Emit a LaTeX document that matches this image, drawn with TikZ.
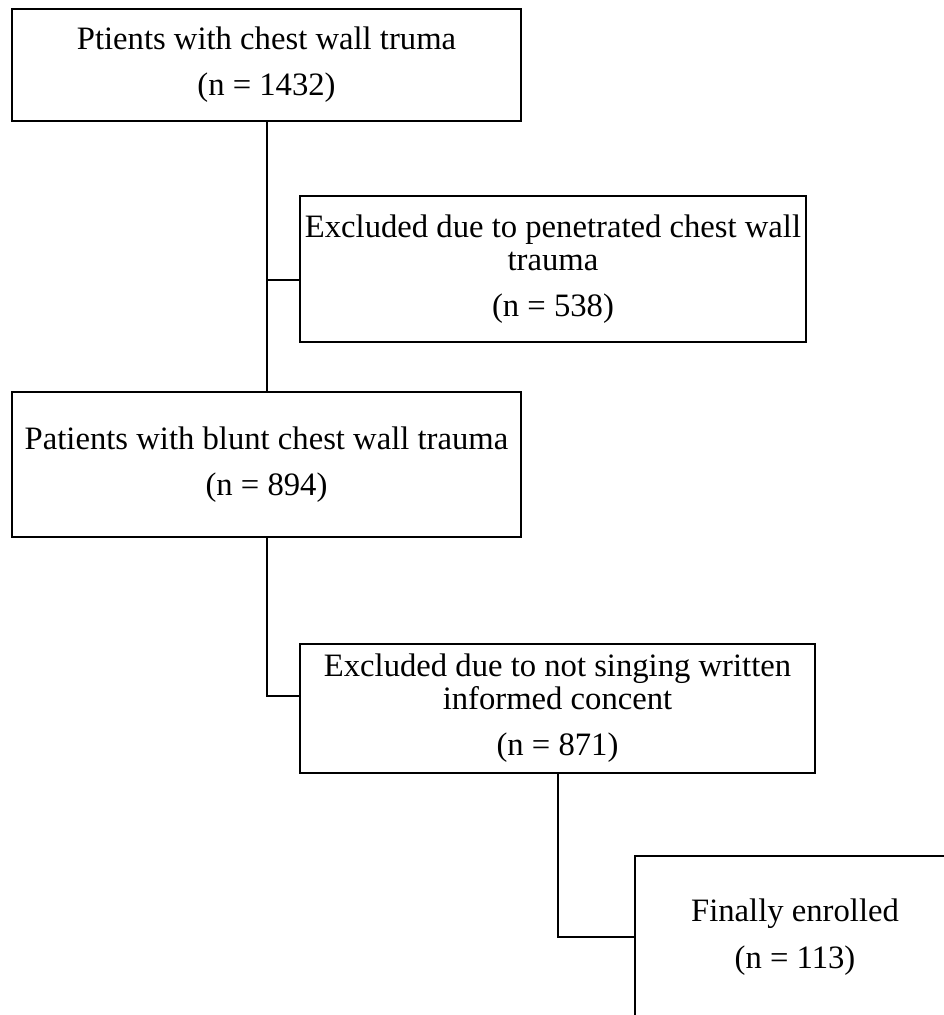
\documentclass[tikz,border=0pt]{standalone}
\usepackage{fontspec}
\setmainfont{Liberation Serif}
\begin{document}
\begin{tikzpicture}[x=0.75pt,y=-0.75pt,
    box/.style={draw, line width=1.5pt, inner sep=0pt, align=center,
        font=\fontsize{24.5}{24.75}\selectfont},
    link/.style={line width=1.5pt}]
    \useasboundingbox (0,0) rectangle (944,1015);

    % Boxes
    \node[box, minimum width=381.75pt, minimum height=84pt] (all) at (266.5,65)
        {Ptients with chest wall truma\\[9.75pt](n = 1432)};
    \node[box, minimum width=379.5pt, minimum height=109.5pt] (excl1) at (553,269)
        {Excluded due to penetrated chest wall\\trauma\\[9.75pt](n = 538)};
    \node[box, minimum width=381.75pt, minimum height=108.75pt] (blunt) at (266.5,464.5)
        {Patients with blunt chest wall trauma\\[9.75pt](n = 894)};
    \node[box, minimum width=386.25pt, minimum height=96.75pt] (excl2) at (557.5,708.5)
        {Excluded due to not singing written\\informed concent\\[9.75pt](n = 871)};
    \node[box, minimum width=240pt, minimum height=121.5pt] (enrolled) at (795,937)
        {Finally enrolled\\[11pt](n = 113)};

    % Connectors
    \draw[link] (all) -- (blunt);
    \coordinate (j1) at (266.5,280);
    \draw[link] (j1) -- (j1 -| excl1.west);
    \coordinate (j2) at (excl2.west |- 0,696);
    \draw[link] (blunt) |- (j2);
    \draw[link] (excl2) |- (enrolled);
\end{tikzpicture}
\end{document}
